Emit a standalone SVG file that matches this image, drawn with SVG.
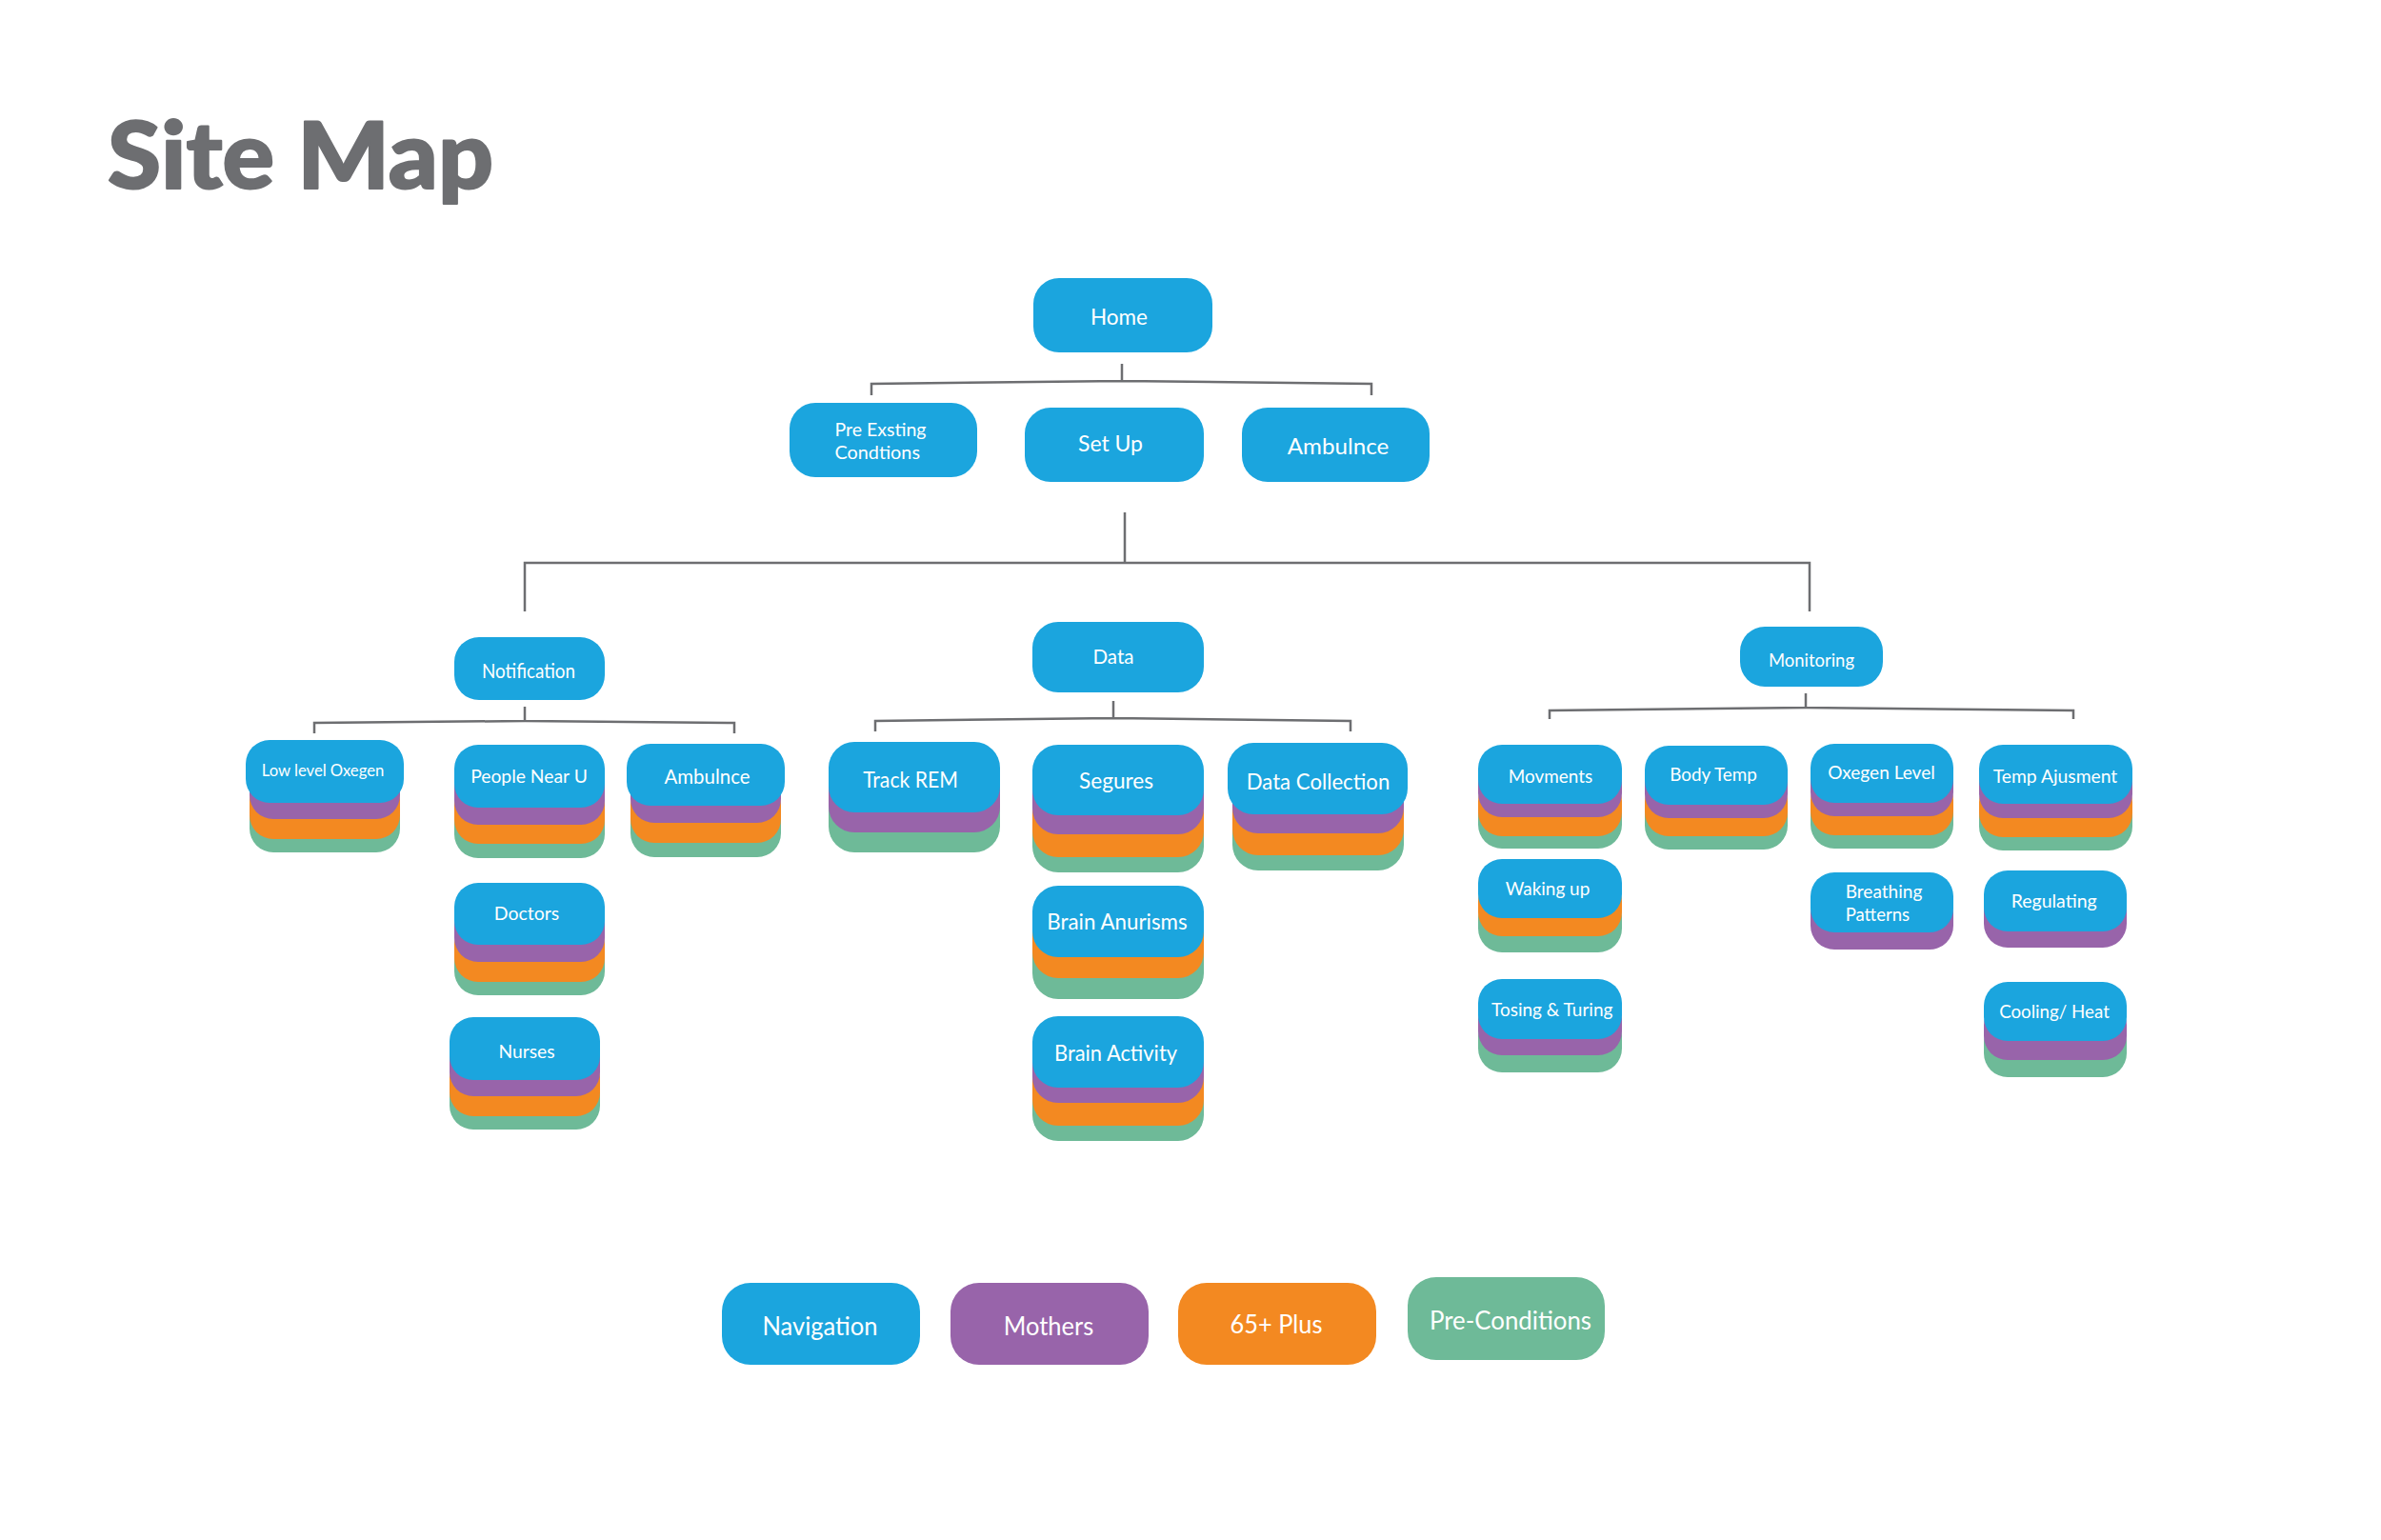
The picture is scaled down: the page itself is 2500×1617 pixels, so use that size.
<svg xmlns="http://www.w3.org/2000/svg" width="2500" height="1617" viewBox="0 0 2500 1617">
<style>
.bl{fill:#1ba5de}
.pu{fill:#9864aa}
.or{fill:#f38921}
.gr{fill:#6eba98}
.t{fill:#ffffff;font-family:Lato,"Liberation Sans",sans-serif;text-anchor:middle}
.tl{fill:#ffffff;font-family:Lato,"Liberation Sans",sans-serif;text-anchor:start}
.c{fill:none;stroke:#6d6e71;stroke-width:2.5}
.title{fill:#6d6e71;stroke:#6d6e71;stroke-width:2;stroke-linejoin:round;font-family:Lato,"Liberation Sans",sans-serif;font-weight:900}
</style>
<rect width="2500" height="1617" fill="#ffffff"/>
<text class="title" x="113" y="198" font-size="97" textLength="405" lengthAdjust="spacingAndGlyphs">Site Map</text>

<g id="connectors">
<path class="c" d="M1178,382 V400 M915,415 V403 L1178,400 L1440,403 V415"/>
<path class="c" d="M1181,538 V591 M551,642 V591 H1900 V642"/>
<path class="c" d="M551,742 V757 M330,770 V759 L551,757 L771,759 V770"/>
<path class="c" d="M1169,736 V754 M919,768 V757 L1169,754 L1418,757 V768"/>
<path class="c" d="M1896,728 V743 M1627,755 V746 L1896,743 L2177,746 V755"/>
</g>

<g id="home">
<rect class="bl" x="1085" y="292" width="188" height="78" rx="27"/>
<text class="t" x="1175" y="341" font-size="23" textLength="60" lengthAdjust="spacingAndGlyphs">Home</text>
</g>
<g id="pre-exsting">
<rect class="bl" x="829" y="423" width="197" height="78" rx="27"/>
<text class="tl" x="876.5" y="458" font-size="19.5" textLength="96" lengthAdjust="spacingAndGlyphs">Pre Exsting</text>
<text class="tl" x="876.5" y="482" font-size="19.5" textLength="89.5" lengthAdjust="spacingAndGlyphs">Condtions</text>
</g>
<g id="setup">
<rect class="bl" x="1076" y="428" width="188" height="78" rx="27"/>
<text class="t" x="1166" y="474" font-size="23" textLength="68" lengthAdjust="spacingAndGlyphs">Set Up</text>
</g>
<g id="ambulnce-top">
<rect class="bl" x="1304" y="428" width="197" height="78" rx="27"/>
<text class="t" x="1405" y="477" font-size="23.5" textLength="106.5" lengthAdjust="spacingAndGlyphs">Ambulnce</text>
</g>

<g id="notification">
<rect class="bl" x="477" y="669" width="158" height="66" rx="26"/>
<text class="t" x="555" y="712" font-size="21.5" textLength="98" lengthAdjust="spacingAndGlyphs">Notification</text>
</g>
<g id="data">
<rect class="bl" x="1084" y="653" width="180" height="74" rx="27"/>
<text class="t" x="1169" y="697" font-size="22" textLength="43" lengthAdjust="spacingAndGlyphs">Data</text>
</g>
<g id="monitoring">
<rect class="bl" x="1827" y="658" width="150" height="63" rx="26"/>
<text class="t" x="1902" y="700" font-size="20" textLength="90" lengthAdjust="spacingAndGlyphs">Monitoring</text>
</g>

<g id="low-level-oxegen">
<rect class="gr" x="262" y="829" width="158" height="66" rx="25"/>
<rect class="or" x="262" y="815" width="158" height="66" rx="25"/>
<rect class="pu" x="262" y="794" width="158" height="66" rx="25"/>
<rect class="bl" x="258" y="777" width="166" height="66" rx="25"/>
<text class="t" x="339" y="814.5" font-size="18" textLength="128.5" lengthAdjust="spacingAndGlyphs">Low level Oxegen</text>
</g>
<g id="people-near-u">
<rect class="gr" x="477" y="835" width="158" height="66" rx="25"/>
<rect class="or" x="477" y="820" width="158" height="66" rx="25"/>
<rect class="pu" x="477" y="800" width="158" height="66" rx="25"/>
<rect class="bl" x="477" y="782" width="158" height="66" rx="25"/>
<text class="t" x="555.5" y="822" font-size="20" textLength="122.7" lengthAdjust="spacingAndGlyphs">People Near U</text>
</g>
<g id="ambulnce">
<rect class="gr" x="662" y="835" width="158" height="65" rx="25"/>
<rect class="or" x="662" y="820" width="158" height="65" rx="25"/>
<rect class="pu" x="662" y="799" width="158" height="65" rx="25"/>
<rect class="bl" x="658" y="781" width="166" height="65" rx="25"/>
<text class="t" x="742.5" y="823" font-size="20.5" textLength="90" lengthAdjust="spacingAndGlyphs">Ambulnce</text>
</g>
<g id="doctors">
<rect class="gr" x="477" y="980" width="158" height="65" rx="25"/>
<rect class="or" x="477" y="966" width="158" height="65" rx="25"/>
<rect class="pu" x="477" y="945" width="158" height="65" rx="25"/>
<rect class="bl" x="477" y="927" width="158" height="65" rx="25"/>
<text class="t" x="553" y="966" font-size="20" textLength="68.4" lengthAdjust="spacingAndGlyphs">Doctors</text>
</g>
<g id="nurses">
<rect class="gr" x="472" y="1120" width="158" height="66" rx="25"/>
<rect class="or" x="472" y="1106" width="158" height="66" rx="25"/>
<rect class="pu" x="472" y="1085" width="158" height="66" rx="25"/>
<rect class="bl" x="472" y="1068" width="158" height="66" rx="25"/>
<text class="t" x="553" y="1110.5" font-size="20" textLength="59" lengthAdjust="spacingAndGlyphs">Nurses</text>
</g>

<g id="track-rem">
<rect class="gr" x="870" y="821" width="180" height="74" rx="27"/>
<rect class="pu" x="870" y="800" width="180" height="74" rx="27"/>
<rect class="bl" x="870" y="779" width="180" height="74" rx="27"/>
<text class="t" x="956" y="827" font-size="24" textLength="99.7" lengthAdjust="spacingAndGlyphs">Track REM</text>
</g>
<g id="segures">
<rect class="gr" x="1084" y="842" width="180" height="74" rx="27"/>
<rect class="or" x="1084" y="826" width="180" height="74" rx="27"/>
<rect class="pu" x="1084" y="802" width="180" height="74" rx="27"/>
<rect class="bl" x="1084" y="782" width="180" height="74" rx="27"/>
<text class="t" x="1172" y="828" font-size="24" textLength="78" lengthAdjust="spacingAndGlyphs">Segures</text>
</g>
<g id="data-collection">
<rect class="gr" x="1294" y="839" width="180" height="75" rx="27"/>
<rect class="or" x="1294" y="823" width="180" height="75" rx="27"/>
<rect class="pu" x="1294" y="800" width="180" height="75" rx="27"/>
<rect class="bl" x="1289" y="780" width="189" height="75" rx="27"/>
<text class="t" x="1384" y="828.5" font-size="24" textLength="150.5" lengthAdjust="spacingAndGlyphs">Data Collection</text>
</g>
<g id="brain-anurisms">
<rect class="gr" x="1084" y="974" width="180" height="75" rx="27"/>
<rect class="or" x="1084" y="952" width="180" height="75" rx="27"/>
<rect class="bl" x="1084" y="930" width="180" height="75" rx="27"/>
<text class="t" x="1173" y="976" font-size="23" textLength="147.4" lengthAdjust="spacingAndGlyphs">Brain Anurisms</text>
</g>
<g id="brain-activity">
<rect class="gr" x="1084" y="1123" width="180" height="75" rx="27"/>
<rect class="or" x="1084" y="1107" width="180" height="75" rx="27"/>
<rect class="pu" x="1084" y="1083" width="180" height="75" rx="27"/>
<rect class="bl" x="1084" y="1067" width="180" height="75" rx="27"/>
<text class="t" x="1171.5" y="1113.5" font-size="23" textLength="129" lengthAdjust="spacingAndGlyphs">Brain Activity</text>
</g>

<g id="movments">
<rect class="gr" x="1552" y="829" width="151" height="62" rx="25"/>
<rect class="or" x="1552" y="816" width="151" height="62" rx="25"/>
<rect class="pu" x="1552" y="796" width="151" height="62" rx="25"/>
<rect class="bl" x="1552" y="782" width="151" height="62" rx="25"/>
<text class="t" x="1628" y="821.5" font-size="18.5" textLength="88.3" lengthAdjust="spacingAndGlyphs">Movments</text>
</g>
<g id="body-temp">
<rect class="gr" x="1727" y="830" width="150" height="62" rx="25"/>
<rect class="or" x="1727" y="816" width="150" height="62" rx="25"/>
<rect class="pu" x="1727" y="797" width="150" height="62" rx="25"/>
<rect class="bl" x="1727" y="783" width="150" height="62" rx="25"/>
<text class="t" x="1799" y="820" font-size="18.5" textLength="91.7" lengthAdjust="spacingAndGlyphs">Body Temp</text>
</g>
<g id="oxegen-level">
<rect class="gr" x="1901" y="829" width="150" height="62" rx="25"/>
<rect class="or" x="1901" y="815" width="150" height="62" rx="25"/>
<rect class="pu" x="1901" y="795" width="150" height="62" rx="25"/>
<rect class="bl" x="1901" y="781" width="150" height="62" rx="25"/>
<text class="t" x="1975.5" y="818.3" font-size="18.5" textLength="112.4" lengthAdjust="spacingAndGlyphs">Oxegen Level</text>
</g>
<g id="temp-ajusment">
<rect class="gr" x="2078" y="831" width="161" height="62" rx="25"/>
<rect class="or" x="2078" y="817" width="161" height="62" rx="25"/>
<rect class="pu" x="2078" y="797" width="161" height="62" rx="25"/>
<rect class="bl" x="2078" y="782" width="161" height="62" rx="25"/>
<text class="t" x="2158" y="821.7" font-size="18.5" textLength="130.6" lengthAdjust="spacingAndGlyphs">Temp Ajusment</text>
</g>
<g id="waking-up">
<rect class="gr" x="1552" y="938" width="151" height="62" rx="25"/>
<rect class="or" x="1552" y="921" width="151" height="62" rx="25"/>
<rect class="bl" x="1552" y="902" width="151" height="62" rx="25"/>
<text class="t" x="1625" y="940" font-size="18.5" textLength="88.6" lengthAdjust="spacingAndGlyphs">Waking up</text>
</g>
<g id="tosing-turing">
<rect class="gr" x="1552" y="1063" width="151" height="63" rx="25"/>
<rect class="pu" x="1552" y="1045" width="151" height="63" rx="25"/>
<rect class="bl" x="1552" y="1028" width="151" height="63" rx="25"/>
<text class="t" x="1629.7" y="1066.7" font-size="18.5" textLength="127.3" lengthAdjust="spacingAndGlyphs">Tosing &amp; Turing</text>
</g>
<g id="breathing-patterns">
<rect class="pu" x="1901" y="934" width="150" height="63" rx="25"/>
<rect class="bl" x="1901" y="916" width="150" height="63" rx="25"/>
<text class="tl" x="1937.7" y="942.7" font-size="18.5" textLength="80.7" lengthAdjust="spacingAndGlyphs">Breathing</text>
<text class="tl" x="1937.7" y="966.7" font-size="18.5" textLength="67.3" lengthAdjust="spacingAndGlyphs">Patterns</text>
</g>
<g id="regulating">
<rect class="pu" x="2083" y="931" width="150" height="64" rx="25"/>
<rect class="bl" x="2083" y="914" width="150" height="64" rx="25"/>
<text class="t" x="2156.7" y="953.3" font-size="18.5" textLength="90" lengthAdjust="spacingAndGlyphs">Regulating</text>
</g>
<g id="cooling-heat">
<rect class="gr" x="2083" y="1069" width="150" height="62" rx="25"/>
<rect class="pu" x="2083" y="1051" width="150" height="62" rx="25"/>
<rect class="bl" x="2083" y="1031" width="150" height="62" rx="25"/>
<text class="t" x="2157" y="1069.3" font-size="18.5" textLength="115.7" lengthAdjust="spacingAndGlyphs">Cooling/ Heat</text>
</g>

<g id="legend-navigation">
<rect class="bl" x="758" y="1347" width="208" height="86" rx="30"/>
<text class="t" x="861" y="1401.7" font-size="26" textLength="121" lengthAdjust="spacingAndGlyphs">Navigation</text>
</g>
<g id="legend-mothers">
<rect class="pu" x="998" y="1347" width="208" height="86" rx="30"/>
<text class="t" x="1101" y="1401.8" font-size="26" textLength="94.4" lengthAdjust="spacingAndGlyphs">Mothers</text>
</g>
<g id="legend-65plus">
<rect class="or" x="1237" y="1347" width="208" height="86" rx="30"/>
<text class="t" x="1340" y="1400" font-size="26" textLength="97" lengthAdjust="spacingAndGlyphs">65+ Plus</text>
</g>
<g id="legend-preconditions">
<rect class="gr" x="1478" y="1341" width="207" height="87" rx="30"/>
<text class="t" x="1586" y="1396" font-size="26" textLength="170" lengthAdjust="spacingAndGlyphs">Pre-Conditions</text>
</g>
</svg>
